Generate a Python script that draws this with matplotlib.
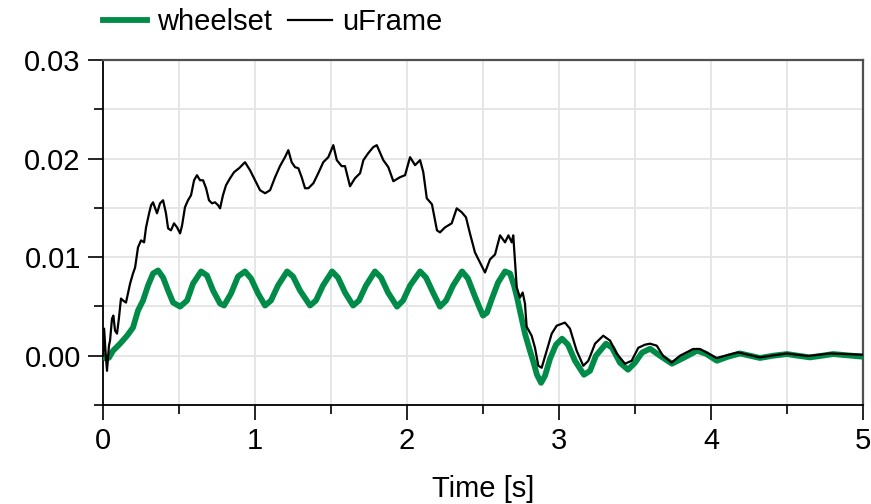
import numpy as np
import matplotlib
matplotlib.use('Agg')
import matplotlib.pyplot as plt
from matplotlib.ticker import MultipleLocator, FormatStrFormatter

plt.rcParams['font.family'] = ['Liberation Sans', 'DejaVu Sans']

# uFrame (black) - time [s] and value (in units of 1e-3)
t_frame = [0, 0.007, 0.016, 0.026, 0.039, 0.046, 0.059, 0.068, 0.079, 0.092,
           0.105, 0.118, 0.132, 0.151, 0.164, 0.178, 0.197, 0.211, 0.230, 0.250,
           0.270, 0.283, 0.303, 0.316, 0.329, 0.355, 0.375, 0.395, 0.414, 0.428,
           0.447, 0.467, 0.487, 0.507, 0.520, 0.539, 0.559, 0.579, 0.599, 0.618,
           0.638, 0.658, 0.678, 0.697, 0.717, 0.737, 0.757, 0.770, 0.789, 0.809,
           0.836, 0.862, 0.895, 0.934, 0.967, 1.000, 1.033, 1.066, 1.099, 1.132,
           1.164, 1.197, 1.219, 1.241, 1.263, 1.285, 1.307, 1.329, 1.351, 1.384,
           1.416, 1.449, 1.482, 1.515, 1.538, 1.570, 1.592, 1.625, 1.658, 1.691,
           1.713, 1.745, 1.778, 1.801, 1.844, 1.877, 1.910, 1.954, 1.987, 2.020,
           2.053, 2.086, 2.107, 2.130, 2.164, 2.197, 2.217, 2.250, 2.294, 2.327,
           2.360, 2.388, 2.414, 2.447, 2.480, 2.513, 2.546, 2.579, 2.612, 2.645,
           2.667, 2.689, 2.699, 2.711, 2.722, 2.743, 2.761, 2.776, 2.787, 2.820,
           2.842, 2.864, 2.886, 2.919, 2.952, 2.985, 3.039, 3.072, 3.116, 3.160,
           3.193, 3.237, 3.291, 3.336, 3.380, 3.434, 3.478, 3.522, 3.566, 3.599,
           3.643, 3.684, 3.741, 3.796, 3.882, 3.928, 4.037, 4.178, 4.322, 4.498,
           4.638, 4.783, 5.000]
u_frame = [0, 2.75, 0.51, -1.53, 1.02, 1.53, 3.76, 4.07, 2.54, 2.24,
           3.87, 5.80, 5.60, 5.39, 6.31, 7.32, 8.34, 8.95, 10.99, 11.70,
           11.50, 13.02, 14.45, 15.26, 15.56, 14.45, 15.46, 15.77, 14.45, 12.92,
           12.72, 13.43, 13.02, 12.41, 13.22, 15.06, 15.77, 16.28, 17.80, 18.31,
           17.80, 17.80, 16.99, 15.77, 15.46, 15.56, 15.26, 14.95, 16.28, 17.29,
           18.01, 18.62, 19.02, 19.63, 18.82, 17.80, 16.79, 16.48, 16.79, 18.11,
           19.23, 20.14, 20.85, 19.63, 19.13, 19.02, 18.11, 16.99, 16.99, 17.50,
           18.51, 19.63, 20.14, 21.36, 19.84, 19.23, 19.23, 17.19, 18.01, 18.51,
           19.84, 20.55, 21.16, 21.36, 19.84, 19.13, 17.70, 18.11, 18.31, 20.14,
           19.33, 19.84, 18.62, 15.97, 15.36, 12.72, 12.51, 13.02, 13.43, 14.95,
           14.55, 14.04, 12.41, 10.48, 9.46, 8.44, 9.77, 10.27, 12.21, 11.50,
           12.21, 11.50, 12.21, 9.46, 6.92, 5.90, 6.41, 5.29, 2.95, 2.03,
           0.81, -1.02, -1.22, 0.51, 2.24, 3.05, 3.36, 2.75, 0.51, -1.02,
           -0.51, 1.22, 2.03, 1.53, 0.20, -0.81, -0.51, 0.81, 1.12, 1.22,
           1.02, 0.0, -0.70, 0.0, 0.68, 0.68, -0.23, 0.34, -0.17, 0.23,
           -0.03, 0.23, 0.10]

# wheelset (green)
t_wheel = [0, 0.020, 0.039, 0.066, 0.112, 0.158, 0.197, 0.230, 0.263, 0.296,
           0.329, 0.362, 0.395, 0.428, 0.461, 0.507, 0.553, 0.592, 0.645, 0.684,
           0.724, 0.770, 0.796, 0.842, 0.888, 0.934, 0.974, 1.020, 1.066, 1.105,
           1.151, 1.211, 1.250, 1.296, 1.362, 1.401, 1.447, 1.507, 1.546, 1.592,
           1.645, 1.684, 1.730, 1.789, 1.829, 1.875, 1.934, 1.974, 2.020, 2.086,
           2.125, 2.171, 2.217, 2.257, 2.303, 2.362, 2.401, 2.447, 2.480, 2.500,
           2.526, 2.559, 2.599, 2.645, 2.678, 2.704, 2.724, 2.750, 2.776, 2.803,
           2.829, 2.855, 2.882, 2.908, 2.941, 2.980, 3.020, 3.059, 3.105, 3.164,
           3.204, 3.243, 3.309, 3.349, 3.401, 3.454, 3.500, 3.546, 3.599, 3.664,
           3.743, 3.822, 3.908, 3.967, 4.039, 4.112, 4.191, 4.257, 4.322, 4.408,
           4.500, 4.572, 4.651, 4.730, 4.803, 5.000]
u_wheel = [0, -0.31, -0.20, 0.51, 1.22, 2.03, 2.85, 4.58, 5.60, 7.12,
           8.34, 8.65, 7.93, 6.61, 5.39, 4.98, 5.60, 7.32, 8.55, 8.14,
           6.61, 5.29, 5.09, 6.31, 8.04, 8.55, 7.83, 6.31, 5.09, 5.60,
           7.12, 8.55, 8.04, 6.61, 5.09, 5.60, 7.12, 8.55, 7.93, 6.41,
           5.09, 5.60, 7.12, 8.55, 7.93, 6.41, 4.98, 5.60, 7.12, 8.55,
           7.93, 6.41, 4.98, 5.60, 7.12, 8.55, 7.83, 6.00, 4.78, 4.07,
           4.37, 5.80, 7.43, 8.55, 8.34, 7.12, 5.90, 4.07, 2.24, 0.81,
           -0.51, -1.93, -2.75, -2.03, -0.31, 1.12, 1.73, 1.12, -0.51, -1.93,
           -1.53, 0.0, 1.22, 0.81, -0.71, -1.42, -0.71, 0.31, 0.71, 0.0,
           -0.81, -0.20, 0.51, 0.20, -0.51, -0.10, 0.23, 0.0, -0.23, 0.0,
           0.17, 0.0, -0.17, 0.0, 0.17, -0.10]

scale = 1e-3
green = '#008c48'

fig = plt.figure(figsize=(8.71, 5.04), dpi=100)
ax = fig.add_axes([0.1183, 0.1964, 0.8725, 0.6846])

ax.plot(t_wheel, np.array(u_wheel) * scale, color=green, lw=4.2,
        label='wheelset', solid_joinstyle='round', zorder=3)
ax.plot(t_frame, np.array(u_frame) * scale, color='black', lw=1.6,
        label='uFrame', zorder=4)

ax.set_xlim(0, 5)
ax.set_ylim(-0.005, 0.03)
ax.xaxis.set_major_locator(MultipleLocator(1))
ax.xaxis.set_minor_locator(MultipleLocator(0.5))
ax.yaxis.set_major_locator(MultipleLocator(0.01))
ax.yaxis.set_minor_locator(MultipleLocator(0.005))
ax.yaxis.set_major_formatter(FormatStrFormatter('%.2f'))

ax.grid(which='both', color='#e6e6e6', lw=1.4, zorder=0)
ax.set_axisbelow(True)

ax.tick_params(which='major', direction='out', length=11, width=1.2,
               labelsize=21, pad=5)
ax.tick_params(which='minor', direction='out', length=6.5, width=1.2)

for side in ['left', 'bottom']:
    ax.spines[side].set_linewidth(1.3)
    ax.spines[side].set_color('black')
for side in ['top', 'right']:
    ax.spines[side].set_linewidth(1.6)
    ax.spines[side].set_color('#505050')

ax.set_xlabel('Time [s]', fontsize=21, labelpad=14)

ax.legend(loc='center left', bbox_to_anchor=(0, 1.11), ncol=2, frameon=False,
          fontsize=21, handlelength=1.5, handletextpad=0.35, columnspacing=0.55,
          borderpad=0, borderaxespad=0)

fig.savefig('out.png', dpi=100)
